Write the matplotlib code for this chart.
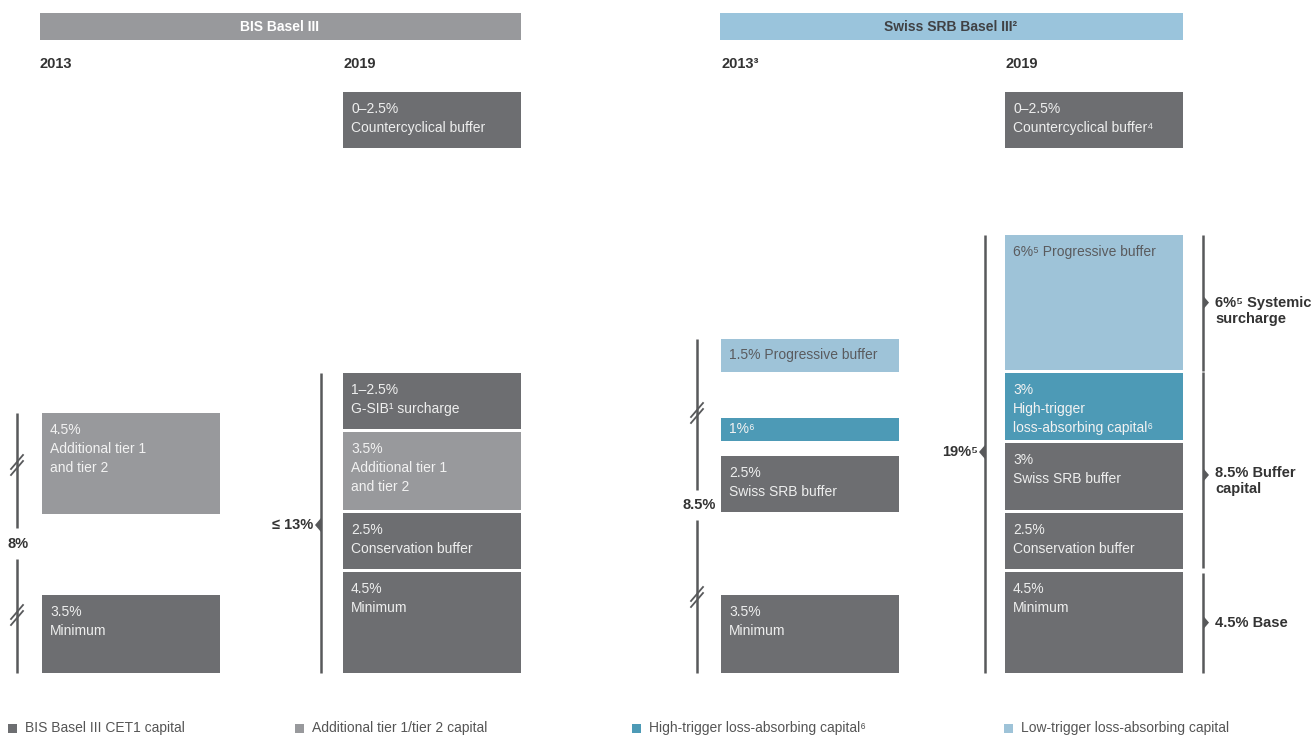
import matplotlib
matplotlib.use('Agg')
import matplotlib.pyplot as plt
from matplotlib.patches import Rectangle

### Dados (valores em % dos ativos ponderados pelo risco)
bis13_labels = ['3.5%\nMinimum', '4.5%\nAdditional tier 1\nand tier 2']
bis13_values = [3.5, 4.5]
bis13_kinds = ['cet1', 'at1']

bis19_labels = ['4.5%\nMinimum', '2.5%\nConservation buffer', '3.5%\nAdditional tier 1\nand tier 2',
                '1–2.5%\nG-SIB¹ surcharge', '0–2.5%\nCountercyclical buffer']
bis19_values = [4.5, 2.5, 3.5, 2.5, 2.5]
bis19_kinds = ['cet1', 'cet1', 'at1', 'cet1', 'cet1']

srb13_labels = ['3.5%\nMinimum', '2.5%\nSwiss SRB buffer', '1%⁶', '1.5% Progressive buffer']
srb13_values = [3.5, 2.5, 1.0, 1.5]
srb13_kinds = ['cet1', 'cet1', 'high', 'low']

srb19_labels = ['4.5%\nMinimum', '2.5%\nConservation buffer', '3%\nSwiss SRB buffer',
                '3%\nHigh-trigger\nloss-absorbing capital⁶', '6%⁵ Progressive buffer',
                '0–2.5%\nCountercyclical buffer⁴']
srb19_values = [4.5, 2.5, 3.0, 3.0, 6.0, 2.5]
srb19_kinds = ['cet1', 'cet1', 'cet1', 'high', 'low', 'cet1']

legend_labels = ['BIS Basel III CET1 capital', 'Additional tier 1/tier 2 capital',
                 'High-trigger loss-absorbing capital⁶', 'Low-trigger loss-absorbing capital']
legend_kinds = ['cet1', 'at1', 'high', 'low']

### Estilo / layout
colors = {'cet1': '#6d6e71', 'at1': '#98999c', 'high': '#4d9ab6', 'low': '#9ec3d8'}
txtcol = {'cet1': '#eeeeee', 'at1': '#f2f2f2', 'high': '#f2f2f2', 'low': '#5a5b5e'}
dark = '#58595b'
FONT = ['Liberation Sans', 'DejaVu Sans']

P = 22.4      # pixels por ponto percentual
BASE = 673    # linha de base em pixels (a partir do topo)
W = 178


def py(ypx):
    # pixel (a partir do topo) -> unidade do eixo y
    return (BASE - ypx) / P


fig = plt.figure(figsize=(13.14, 7.36), dpi=100)
ax = fig.add_axes([0, 0, 1, 1])
ax.set_xlim(0, 1314)
ax.set_ylim(py(736), py(0))
ax.axis('off')


def stack(x, labels, values, kinds, gaps):
    tops = []
    cur = 0.0
    for lab, v, k, g in zip(labels, values, kinds, gaps):
        cur += g / P
        ax.bar(x, v, width=W, bottom=cur, align='edge', color=colors[k], edgecolor='none')
        top = cur + v
        if v <= 1.5:
            ax.text(x + 8, cur + v / 2, lab, color=txtcol[k], fontsize=10, family=FONT,
                    va='center', ha='left')
        else:
            ax.text(x + 8, top - 10 / P, lab, color=txtcol[k], fontsize=10, family=FONT,
                    va='top', ha='left', linespacing=1.45)
        tops.append((cur, top))
        cur = top
    return tops


bis13 = stack(42, bis13_labels, bis13_values, bis13_kinds, [0, 81])
bis19 = stack(343, bis19_labels, bis19_values, bis19_kinds, [0, 3, 3, 3, 225])
srb13 = stack(721, srb13_labels, srb13_values, srb13_kinds, [0, 83, 15, 46])
srb19 = stack(1005, srb19_labels, srb19_values, srb19_kinds, [0, 3, 3, 3, 3, 87])

### Cabecalhos
ax.add_patch(Rectangle((40, py(40)), 481, 27 / P, color='#98999c', lw=0))
ax.text(280, py(27), 'BIS Basel III', color='white', fontsize=10, fontweight='bold',
        family=FONT, ha='center', va='center')
ax.add_patch(Rectangle((720, py(40)), 463, 27 / P, color='#9ac4dc', lw=0))
ax.text(951, py(27), 'Swiss SRB Basel III²', color='#404144', fontsize=10, fontweight='bold',
        family=FONT, ha='center', va='center')

for xx, s in [(40, '2013'), (343, '2019'), (721, '2013³'), (1005, '2019')]:
    ax.text(xx, py(64), s, color='#333333', fontsize=10.5, fontweight='bold', family=FONT,
            ha='left', va='center')


### Chaves / colchetes
def vline(x, y0, y1):
    ax.plot([x, x], [y0, y1], color=dark, lw=1.8, solid_capstyle='butt')


def notch(x, y, side):
    d = -6 if side == 'left' else 6
    ax.fill([x, x + d, x], [y + 7 / P, y, y - 7 / P], color=dark, lw=0)


def brk(x, y):
    for off in (-3, 3):
        ax.plot([x - 6, x + 6], [y + (off - 7) / P, y + (off + 7) / P], color=dark, lw=1.3)


def bold_label(x, y, s, ha='left'):
    ax.text(x, y, s, color='#333333', fontsize=10.5, fontweight='bold', family=FONT,
            ha=ha, va='center', linespacing=1.2)


# BIS 2013
vline(17, bis13[0][0], py(559))
vline(17, py(528), bis13[-1][1])
brk(17, py(465))
brk(17, py(615))
bold_label(18, py(544), '8%', ha='center')

# BIS 2019
vline(321, bis19[0][0], bis19[3][1])
notch(321, py(525), 'left')
bold_label(313, py(525), '≤ 13%', ha='right')

# Swiss 2013
vline(697, srb13[0][0], py(520))
vline(697, py(490), srb13[-1][1])
brk(697, py(413))
brk(697, py(597))
bold_label(699, py(505), '8.5%', ha='center')

# Swiss 2019 esquerda
vline(985, srb19[0][0], srb19[4][1])
notch(985, py(452), 'left')
bold_label(978, py(452), '19%⁵', ha='right')

# Swiss 2019 direita
vline(1203, srb19[4][0] - 1 / P, srb19[4][1])
vline(1203, srb19[1][0] + 1 / P, srb19[3][1] + 1 / P)
vline(1203, srb19[0][0], srb19[0][1] - 1 / P)
notch(1203, (srb19[4][0] + srb19[4][1]) / 2, 'right')
notch(1203, py(475), 'right')
notch(1203, (srb19[0][0] + srb19[0][1]) / 2, 'right')
bold_label(1215, py(311), '6%⁵ Systemic\nsurcharge')
bold_label(1215, py(481), '8.5% Buffer\ncapital')
bold_label(1215, py(623), '4.5% Base')

### Legenda
for xx, lab, k in zip([8, 295, 632, 1004], legend_labels, legend_kinds):
    ax.add_patch(Rectangle((xx, py(733)), 9, 9 / P, color=colors[k], lw=0))
    ax.text(xx + 17, py(728), lab, color='#555555', fontsize=10, family=FONT,
            ha='left', va='center')

plt.savefig('out.png', dpi=100)
